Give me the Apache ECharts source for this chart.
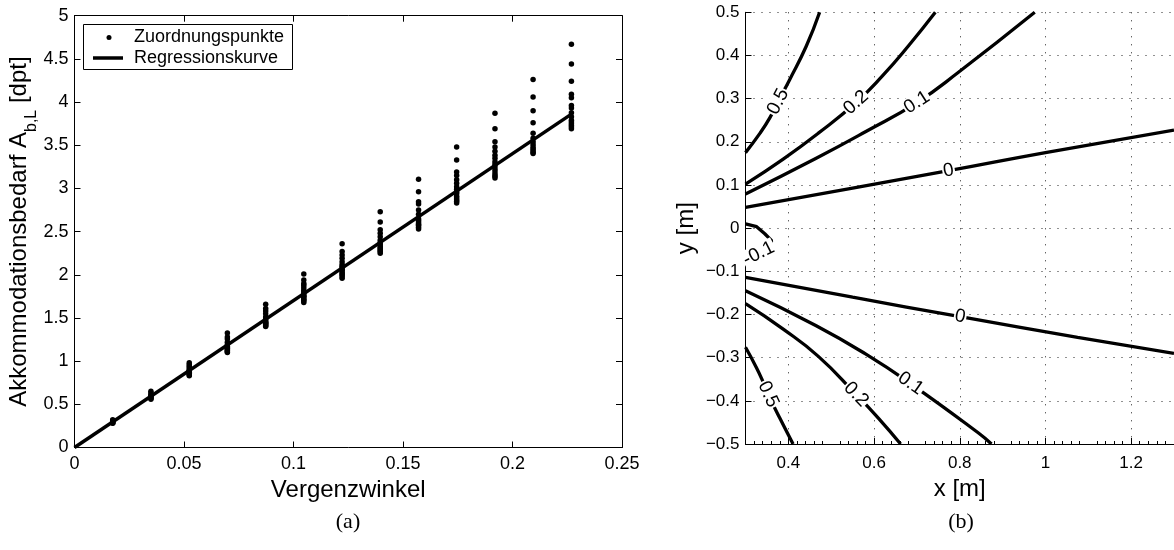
<!DOCTYPE html>
<html><head><meta charset="utf-8">
<script src="https://cdn.jsdelivr.net/npm/echarts@6/dist/echarts.min.js"></script>
<style>html,body{margin:0;padding:0;background:#fff}#c{width:1174px;height:550px}</style>
</head><body><div id="c"></div>
<script>
// ---------- (a) data ----------
const vergenzwinkel = [0.01745, 0.0349, 0.0524, 0.0698, 0.0873, 0.1047, 0.1222, 0.1396, 0.1571, 0.1745, 0.1920, 0.2094, 0.2269];
const zuordnungspunkte = [
  [0.32, 0.31, 0.30, 0.295, 0.29, 0.285, 0.28],
  [0.65, 0.63, 0.61, 0.60, 0.59, 0.58, 0.57, 0.56],
  [0.98, 0.96, 0.94, 0.92, 0.90, 0.89, 0.88, 0.87, 0.86, 0.85, 0.84, 0.83],
  [1.325, 1.28, 1.255, 1.22, 1.19, 1.17, 1.16, 1.15, 1.14, 1.13, 1.12, 1.11, 1.10],
  [1.66, 1.61, 1.58, 1.55, 1.51, 1.50, 1.48, 1.46, 1.45, 1.44, 1.43, 1.42, 1.41, 1.40],
  [2.01, 1.94, 1.90, 1.88, 1.85, 1.82, 1.80, 1.78, 1.76, 1.75, 1.74, 1.72, 1.71, 1.70, 1.68],
  [2.36, 2.27, 2.23, 2.19, 2.15, 2.12, 2.10, 2.08, 2.06, 2.05, 2.03, 2.01, 2.00, 1.98, 1.96],
  [2.73, 2.61, 2.52, 2.48, 2.44, 2.40, 2.37, 2.35, 2.33, 2.31, 2.30, 2.28, 2.27, 2.25],
  [3.105, 2.96, 2.845, 2.82, 2.75, 2.70, 2.65, 2.63, 2.61, 2.59, 2.58, 2.57, 2.55, 2.53],
  [3.48, 3.33, 3.19, 3.15, 3.10, 3.06, 3.02, 2.99, 2.96, 2.94, 2.91, 2.89, 2.87, 2.85, 2.83],
  [3.87, 3.69, 3.54, 3.48, 3.43, 3.385, 3.35, 3.31, 3.28, 3.25, 3.22, 3.19, 3.16, 3.14, 3.12],
  [4.26, 4.06, 3.90, 3.76, 3.64, 3.58, 3.54, 3.51, 3.48, 3.46, 3.44, 3.42, 3.405],
  [4.67, 4.44, 4.24, 4.09, 4.05, 3.96, 3.93, 3.875, 3.83, 3.79, 3.77, 3.75, 3.73, 3.71, 3.69]
];
const regressionX = [0, 0.2269];
const regressionY = [0, 3.86];

// ---------- (b) data: contour lines (x [m], y [m]) ----------
const contourUpper05 = [[0.3,0.175],[0.334,0.22],[0.357,0.256],[0.376,0.293],[0.403,0.344],[0.442,0.422],[0.473,0.5]];
const contourUpper02 = [[0.3,0.102],[0.388,0.160],[0.47,0.220],[0.558,0.291],[0.619,0.352],[0.681,0.423],[0.743,0.5]];
const contourUpper01 = [[0.3,0.079],[0.465,0.162],[0.581,0.224],[0.7,0.291],[0.797,0.361],[0.975,0.5]];
const contourUpper00 = [[0.3,0.048],[0.55,0.093],[0.774,0.133],[1.0,0.175],[1.3,0.227]];
const contourLower00 = [[0.3,-0.114],[0.55,-0.16],[0.801,-0.205],[1.075,-0.253],[1.3,-0.29]];
const contourLower01 = [[0.3,-0.145],[0.465,-0.226],[0.581,-0.292],[0.685,-0.36],[0.843,-0.474],[0.874,-0.5]];
const contourLower02 = [[0.3,-0.175],[0.388,-0.234],[0.47,-0.297],[0.558,-0.385],[0.61,-0.44],[0.662,-0.5]];
const contourLower05 = [[0.3,-0.276],[0.325,-0.322],[0.341,-0.356],[0.353,-0.385],[0.38,-0.44],[0.411,-0.5]];
const contourNeg01 = [[0.3,0.01],[0.326,0.0035],[0.345,-0.013],[0.361,-0.029],[0.353,-0.048],[0.331,-0.059]];
const contourLines = [contourUpper05, contourUpper02, contourUpper01, contourUpper00, contourLower00, contourLower01, contourLower02, contourLower05, contourNeg01];
const contourLevels = ['0.5', '0.2', '0.1', '0', '0', '0.1', '0.2', '0.5', '-0.1'];
const contourLabelAt = [3, 3, 3, 2, 2, 3, 3, 3, 5];
const xTicksB = [0.4, 0.6, 0.8, 1.0, 1.2];

const FONT = '"Liberation Sans", Arial, Helvetica, sans-serif';
const chart = echarts.init(document.getElementById('c'), null, {renderer: 'canvas'});

const scatterData = [];
vergenzwinkel.forEach((x, i) => zuordnungspunkte[i].forEach(y => scatterData.push([x, y])));
const regData = regressionX.map((x, i) => [x, regressionY[i]]);

const blk = {color: '#000', width: 1};
const tickFont = {fontFamily: FONT, fontSize: 18, color: '#000'};
const nameFont = {fontFamily: FONT, fontSize: 24, color: '#000'};

const contourSeries = contourLines.map(pts => ({
  type: 'line', xAxisIndex: 2, yAxisIndex: 2, data: pts, smooth: pts === contourNeg01 ? false : 0.5,
  symbol: 'none', silent: true, z: 3, clip: true,
  lineStyle: {color: '#000', width: 3.3}
}));

const option = {
  animation: false,
  backgroundColor: '#fff',
  grid: [
    {left: 74.5, top: 15.7, width: 547.5, height: 431.8},
    {left: 745.5, top: 12.3, width: 431.5, height: 431.7}
  ],
  legend: [
    {data: ['Zuordnungspunkte'], left: 106.5, top: 27.5, orient: 'vertical', selectedMode: false,
     icon: 'circle', itemWidth: 5, itemHeight: 5, padding: 0, itemStyle: {opacity: 1, color: '#000'},
     textStyle: {fontFamily: FONT, fontSize: 18, color: '#000', lineHeight: 20, padding: [0, 0, 0, 17.5]}},
    {data: ['Regressionskurve'], left: 93, top: 48, orient: 'vertical', selectedMode: false,
     icon: 'rect', itemWidth: 30, itemHeight: 3.5, padding: 0, itemStyle: {opacity: 1, color: '#000'},
     textStyle: {fontFamily: FONT, fontSize: 18, color: '#000', lineHeight: 20, padding: [0, 0, 0, 6]}}
  ],
  xAxis: [
    {gridIndex: 0, type: 'value', min: 0, max: 0.25, interval: 0.05,
     name: 'Vergenzwinkel', nameLocation: 'middle', nameGap: 20, nameTextStyle: nameFont,
     axisLine: {onZero: false, lineStyle: blk}, axisTick: {inside: true, length: 6, lineStyle: blk},
     axisLabel: Object.assign({margin: 8}, tickFont), splitLine: {show: false}},
    {gridIndex: 0, type: 'value', position: 'top', min: 0, max: 0.25, interval: 0.05,
     axisLine: {onZero: false, lineStyle: blk}, axisTick: {inside: true, length: 6, lineStyle: blk},
     axisLabel: {show: false}, splitLine: {show: false}},
    {gridIndex: 1, type: 'value', min: 0.3, max: 1.3, interval: 0.1,
     name: 'x [m]', nameLocation: 'middle', nameGap: 25, nameTextStyle: nameFont,
     axisLine: {onZero: false, lineStyle: blk},
     axisTick: {inside: true, length: 6, lineStyle: blk, customValues: xTicksB},
     minorTick: {show: true, splitNumber: 5, length: 3, lineStyle: blk},
     axisLabel: Object.assign({margin: 11, customValues: xTicksB}, tickFont, {fontSize: 17}),
     splitLine: {show: true, lineStyle: {color: '#222', width: 1, type: [1, 7]}}}
  ],
  yAxis: [
    {gridIndex: 0, type: 'value', min: 0, max: 5, interval: 0.5,
     name: '{m|Akkommodationsbedarf A}{s|b,L}{m| [dpt]}', nameLocation: 'middle', nameGap: 25,
     nameTextStyle: {fontFamily: FONT, fontSize: 24, color: '#000',
       rich: {m: {fontFamily: FONT, fontSize: 24, color: '#000', lineHeight: 40, verticalAlign: 'middle'},
              s: {fontFamily: FONT, fontSize: 16, color: '#000', lineHeight: 16, verticalAlign: 'bottom'}}},
     axisLine: {onZero: false, lineStyle: blk}, axisTick: {inside: true, length: 6, lineStyle: blk},
     axisLabel: Object.assign({margin: 6}, tickFont), splitLine: {show: false}},
    {gridIndex: 0, type: 'value', position: 'right', min: 0, max: 5, interval: 0.5,
     axisLine: {onZero: false, lineStyle: blk}, axisTick: {inside: true, length: 6, lineStyle: blk},
     axisLabel: {show: false}, splitLine: {show: false}},
    {gridIndex: 1, type: 'value', min: -0.5, max: 0.5, interval: 0.1,
     name: 'y [m]', nameLocation: 'middle', nameGap: 47, nameTextStyle: nameFont,
     axisLine: {onZero: false, lineStyle: blk}, axisTick: {inside: true, length: 6, lineStyle: blk},
     axisLabel: Object.assign({margin: 6, formatter: v => String(Math.round(v * 10) / 10).replace('-', '\u2212')}, tickFont, {fontSize: 17}),
     splitLine: {show: true, lineStyle: {color: '#222', width: 1, type: [1, 7]}}}
  ],
  graphic: [
    {type: 'rect', shape: {x: 83.5, y: 24.5, width: 209, height: 45}, style: {fill: 'none', stroke: '#000', lineWidth: 1}, z: 10},
    {type: 'text', x: 348, y: 522, style: {text: '(a)', font: '22px "Liberation Serif", "Times New Roman", serif', fill: '#000', textAlign: 'center', textVerticalAlign: 'middle'}},
    {type: 'text', x: 961, y: 522, style: {text: '(b)', font: '22px "Liberation Serif", "Times New Roman", serif', fill: '#000', textAlign: 'center', textVerticalAlign: 'middle'}}
  ],
  series: [
    {name: 'Zuordnungspunkte', type: 'scatter', xAxisIndex: 0, yAxisIndex: 0, data: scatterData,
     symbol: 'circle', symbolSize: 5.5, itemStyle: {color: '#000', opacity: 1}, z: 3},
    {name: 'Regressionskurve', type: 'line', xAxisIndex: 0, yAxisIndex: 0, data: regData,
     symbol: 'none', lineStyle: {color: '#000', width: 3.5}, itemStyle: {color: '#000'}, z: 4}
  ].concat(contourSeries)
};
chart.setOption(option);

// contour labels, rotated along their line
const labelData = contourLines.map((pts, i) => {
  const k = contourLabelAt[i];
  const a = chart.convertToPixel({xAxisIndex: 2, yAxisIndex: 2}, pts[Math.max(0, k - 1)]);
  const b = chart.convertToPixel({xAxisIndex: 2, yAxisIndex: 2}, pts[Math.min(pts.length - 1, k + 1)]);
  let ang = Math.atan2(-(b[1] - a[1]), b[0] - a[0]) * 180 / Math.PI;
  if (ang > 90) ang -= 180;
  if (ang < -90) ang += 180;
  return {name: contourLevels[i], value: pts[k], label: {rotate: ang}};
});
chart.setOption({
  series: option.series.concat([{
    type: 'scatter', xAxisIndex: 2, yAxisIndex: 2, data: labelData, symbol: 'circle', symbolSize: 1,
    itemStyle: {color: '#fff', opacity: 1}, silent: true, z: 8,
    label: {show: true, position: 'inside', formatter: '{b}', fontFamily: FONT, fontSize: 19, color: '#000',
            opacity: 1, textBorderWidth: 0, backgroundColor: '#fff', padding: [0, 1, 0, 1]}
  }])
});
</script>
</body></html>
